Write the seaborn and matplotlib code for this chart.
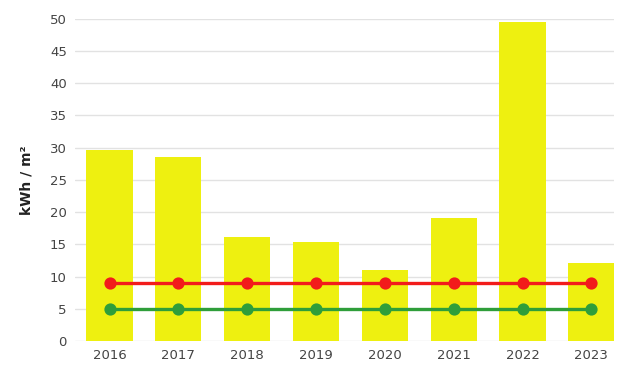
import matplotlib
matplotlib.use("Agg")
import matplotlib.pyplot as plt
import seaborn as sns
import pandas as pd

years = ["2016", "2017", "2018", "2019", "2020", "2021", "2022", "2023"]
consumption = [29.7, 28.6, 16.2, 15.4, 11.0, 19.1, 49.5, 12.1]
red_limit = [9, 9, 9, 9, 9, 9, 9, 9]
green_limit = [5, 5, 5, 5, 5, 5, 5, 5]

df = pd.DataFrame({"year": years, "value": consumption,
                   "red": red_limit, "green": green_limit})

sns.set_theme(style="white")
plt.rcParams['font.family'] = ['DejaVu Sans']

fig = plt.figure(figsize=(6.26, 3.69), dpi=100)
ax = fig.add_axes([0.12, 0.076, 0.861, 0.873])

sns.barplot(data=df, x="year", y="value", color="#EEF010", saturation=1,
            width=0.67, linewidth=0, ax=ax, zorder=2)
sns.pointplot(data=df, x="year", y="red", color="#F21B1B", markersize=7,
              linewidth=2.4, ax=ax, zorder=4)
sns.pointplot(data=df, x="year", y="green", color="#2F9E3A", markersize=7,
              linewidth=2.4, ax=ax, zorder=3)

ax.set_ylim(0, 50)
ax.set_xlim(-0.5, 7.33)
ax.set_yticks(range(0, 51, 5))
ax.yaxis.grid(True, color="#E2E2E2", linewidth=1, zorder=0)
ax.set_axisbelow(True)
for s in ax.spines.values():
    s.set_visible(False)
ax.tick_params(axis="both", colors="#444444", labelsize=9.5, length=0, pad=6)
ax.set_xlabel("")
ax.set_ylabel("kWh / m²", fontsize=10, fontweight="bold", color="#222222", labelpad=12)

fig.savefig("out.png", dpi=100)
